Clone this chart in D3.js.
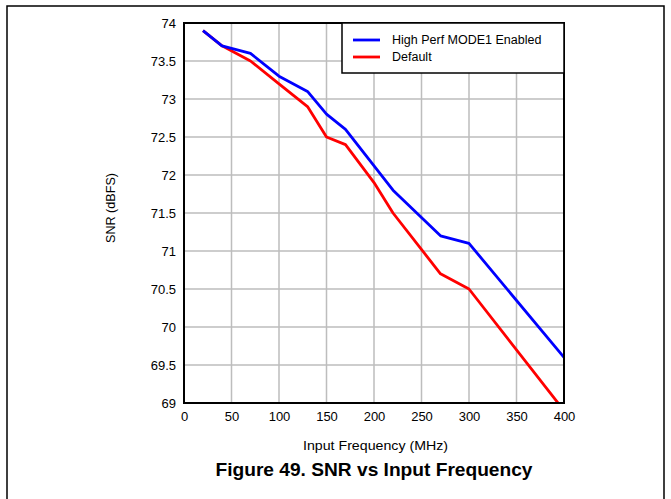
<!DOCTYPE html>
<html><head><meta charset="utf-8">
<script src="https://cdn.jsdelivr.net/npm/d3@7"></script>
<style>body{margin:0;background:#fff;}svg{display:block;font-family:"Liberation Sans",Arial,sans-serif;}</style>
</head><body>
<svg id="c" width="671" height="499"></svg>
<script>
const xTicks = [0,50,100,150,200,250,300,350,400];
const yTicks = [69,69.5,70,70.5,71,71.5,72,72.5,73,73.5,74];
const freqHigh = [20,40,70,100,130,150,170,220,270,300,400];
const snrHigh  = [73.9,73.7,73.6,73.3,73.1,72.8,72.6,71.8,71.2,71.1,69.6];
const freqDef  = [20,40,70,100,130,150,170,200,220,270,300,400];
const snrDef   = [73.9,73.7,73.5,73.2,72.9,72.5,72.4,71.9,71.5,70.7,70.5,68.9];
const seriesNames = ["High Perf MODE1 Enabled","Default"];
const colors = ["#0000ff","#ff0000"];

const svg = d3.select("#c");
const L=184, R=564, T=23, B=403;
const x = d3.scaleLinear().domain([0,400]).range([L,R]);
const y = d3.scaleLinear().domain([69,74]).range([B,T]);

// outer frame
svg.append("path").attr("d","M7,499 V6 H664 V499").attr("fill","none").attr("stroke","#000").attr("stroke-width",1.5);

// grid
svg.append("g").selectAll("line").data(xTicks.slice(1,-1)).join("line")
  .attr("x1",d=>x(d)).attr("x2",d=>x(d)).attr("y1",T).attr("y2",B)
  .attr("stroke","#bdbdbd").attr("stroke-width",1.5);
svg.append("g").selectAll("line").data(yTicks.slice(1,-1)).join("line")
  .attr("y1",d=>y(d)).attr("y2",d=>y(d)).attr("x1",L).attr("x2",R)
  .attr("stroke","#bdbdbd").attr("stroke-width",1.5);

// clip
svg.append("clipPath").attr("id","clip").append("rect").attr("x",L).attr("y",T).attr("width",R-L).attr("height",B-T);

const line = d3.line().x(d=>x(d[0])).y(d=>y(d[1]));
const data = [d3.zip(freqHigh,snrHigh), d3.zip(freqDef,snrDef)];
svg.append("g").attr("clip-path","url(#clip)").selectAll("path").data([1,0]).join("path")
  .attr("d",i=>line(data[i])).attr("fill","none").attr("stroke",i=>colors[i])
  .attr("stroke-width",2.8).attr("stroke-linejoin","round");

// frame
svg.append("rect").attr("x",L).attr("y",T).attr("width",R-L).attr("height",B-T)
  .attr("fill","none").attr("stroke","#000").attr("stroke-width",2);

// axes
const xAxis = svg.append("g").attr("transform",`translate(0,${B})`)
  .call(d3.axisBottom(x).tickValues(xTicks).tickSize(0).tickPadding(9).tickFormat(d3.format("d")));
xAxis.select(".domain").remove();
xAxis.selectAll("text").attr("font-size",13).attr("fill","#000").attr("font-family","Liberation Sans, Arial, sans-serif");
const yAxis = svg.append("g").attr("transform",`translate(${L},0)`)
  .call(d3.axisLeft(y).tickValues(yTicks).tickSize(0).tickPadding(8).tickFormat(d=>String(d)));
yAxis.select(".domain").remove();
yAxis.selectAll("text").attr("font-size",13).attr("fill","#000").attr("font-family","Liberation Sans, Arial, sans-serif");

// axis titles
svg.append("text").attr("x",375.5).attr("y",449.5).attr("text-anchor","middle").attr("font-size",13.5)
  .attr("textLength",145).attr("lengthAdjust","spacingAndGlyphs").text("Input Frequency (MHz)");
svg.append("text").attr("transform","translate(115,208) rotate(-90)").attr("text-anchor","middle").attr("font-size",13)
  .attr("textLength",70).attr("lengthAdjust","spacingAndGlyphs").text("SNR (dBFS)");
svg.append("text").attr("x",374).attr("y",476).attr("text-anchor","middle").attr("font-size",18.5).attr("font-weight","bold")
  .attr("textLength",317).attr("lengthAdjust","spacingAndGlyphs").text("Figure 49. SNR vs Input Frequency");

// legend
const lg = svg.append("g");
lg.append("rect").attr("x",342).attr("y",23).attr("width",222).attr("height",50).attr("fill","#fff").attr("stroke","#000").attr("stroke-width",1.5);
seriesNames.forEach((n,i)=>{
  const yy = 40 + i*17;
  lg.append("line").attr("x1",353).attr("x2",380).attr("y1",yy).attr("y2",yy).attr("stroke",colors[i]).attr("stroke-width",2.8);
  lg.append("text").attr("x",392).attr("y",yy).attr("dy","0.35em").attr("font-size",12.5).text(n);
});
</script>
</body></html>
